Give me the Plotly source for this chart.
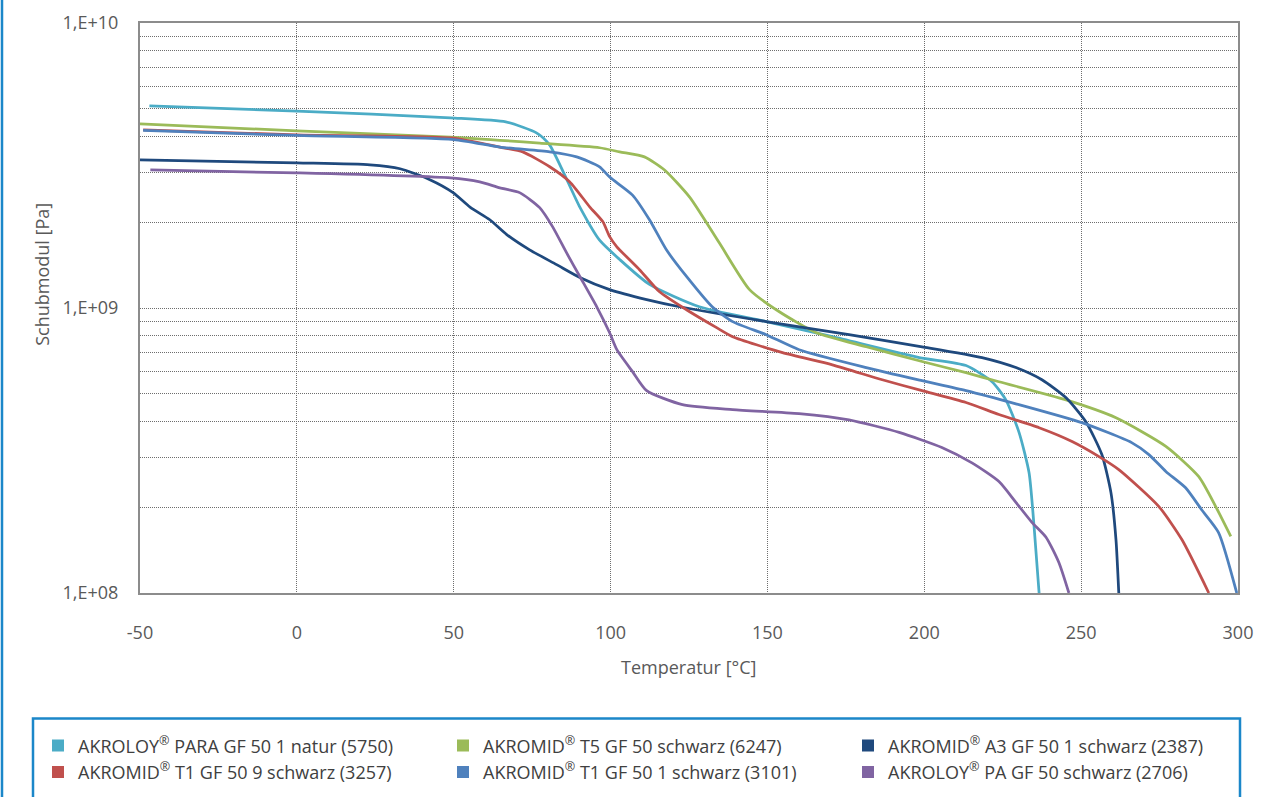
import plotly.graph_objects as go

# ---- data ----
names = [
    "AKROLOY<sup>®</sup> PARA GF 50 1 natur (5750)",
    "AKROMID<sup>®</sup> T5 GF 50 schwarz (6247)",
    "AKROMID<sup>®</sup> A3 GF 50 1 schwarz (2387)",
    "AKROMID<sup>®</sup> T1 GF 50 9 schwarz (3257)",
    "AKROMID<sup>®</sup> T1 GF 50 1 schwarz (3101)",
    "AKROLOY<sup>®</sup> PA GF 50 schwarz (2706)",
]
colors = ["#4BACC6", "#9BBB59", "#1F497D", "#C0504D", "#4F81BD", "#8064A2"]

para_T = [-47, 0, 49, 66.6, 76.5, 80.6, 90.2, 96.5, 102.9, 112.4, 128.3, 149.6, 170.7, 198.4, 213.3, 221.6, 226.0, 230.2, 233.4, 235.0, 236.6]
para_G = [5.12e9, 4.91e9, 4.65e9, 4.50e9, 4.11e9, 3.73e9, 2.26e9, 1.73e9, 1.48e9, 1.21e9, 1.01e9, 8.96e8, 7.93e8, 6.70e8, 6.28e8, 5.51e8, 4.76e8, 3.66e8, 2.64e8, 1.71e8, 1.0e8]

t5_T = [-50, 0, 49, 77.4, 96.5, 102.9, 110.8, 117.2, 125.2, 134.7, 144.3, 153.8, 165.6, 181.5, 199.3, 213.3, 223.8, 245.2, 261.1, 277.0, 287.5, 292.9, 297.7]
t5_G = [4.43e9, 4.18e9, 3.98e9, 3.79e9, 3.65e9, 3.53e9, 3.39e9, 3.05e9, 2.45e9, 1.69e9, 1.16e9, 9.70e8, 8.19e8, 7.31e8, 6.49e8, 5.93e8, 5.51e8, 4.76e8, 4.12e8, 3.27e8, 2.56e8, 2.01e8, 1.58e8]

a3_T = [-50, 0, 23.3, 32.9, 42.4, 49.8, 55.2, 61.5, 66.9, 74.2, 82.8, 90.2, 99.7, 111.5, 122.0, 149.6, 176.0, 199.3, 218.4, 229.2, 237.5, 245.2, 251.5, 256.6, 259.5, 261.1, 262.0]
a3_G = [3.31e9, 3.23e9, 3.18e9, 3.08e9, 2.82e9, 2.54e9, 2.26e9, 2.04e9, 1.81e9, 1.60e9, 1.42e9, 1.28e9, 1.16e9, 1.07e9, 1.01e9, 8.96e8, 8.06e8, 7.31e8, 6.70e8, 6.18e8, 5.60e8, 4.84e8, 3.99e8, 3.06e8, 2.25e8, 1.54e8, 1.0e8]

t1_9_T = [-49, 0, 49, 64.7, 72.0, 80.6, 87.0, 93.4, 97.5, 99.7, 102.0, 109.3, 115.6, 124.2, 133.8, 138.9, 154.8, 170.7, 186.6, 199.3, 213.3, 223.8, 236.6, 247.1, 255.7, 262.0, 274.8, 282.1, 290.7]
t1_9_G = [4.22e9, 4.05e9, 3.95e9, 3.67e9, 3.53e9, 3.13e9, 2.77e9, 2.26e9, 2.01e9, 1.78e9, 1.64e9, 1.36e9, 1.14e9, 9.86e8, 8.53e8, 7.93e8, 6.97e8, 6.32e8, 5.60e8, 5.13e8, 4.66e8, 4.23e8, 3.80e8, 3.40e8, 3.01e8, 2.71e8, 2.01e8, 1.54e8, 1.0e8]

t1_1_T = [-49, 0, 50, 64.7, 80.6, 89.2, 96.5, 99.7, 107.0, 112.4, 117.8, 124.2, 132.4, 138.9, 149.6, 160.1, 181.5, 199.3, 213.3, 229.2, 250.2, 266.1, 271.6, 277.0, 283.3, 288.4, 293.8, 299.6]
t1_1_G = [4.20e9, 4.03e9, 3.90e9, 3.67e9, 3.53e9, 3.39e9, 3.13e9, 2.88e9, 2.49e9, 2.04e9, 1.60e9, 1.29e9, 1.01e9, 8.96e8, 8.06e8, 7.14e8, 6.18e8, 5.56e8, 5.13e8, 4.61e8, 3.96e8, 3.37e8, 3.06e8, 2.67e8, 2.34e8, 1.96e8, 1.63e8, 1.0e8]

pa_T = [-46.7, 0, 49, 58.3, 64.7, 71.0, 77.4, 81.5, 86.0, 90.2, 95.6, 99.7, 102.0, 107.0, 111.5, 122.9, 138.9, 160.1, 176.0, 192.0, 205.6, 215.2, 223.8, 229.2, 234.3, 238.8, 242.9, 246.1]
pa_G = [3.05e9, 2.98e9, 2.86e9, 2.77e9, 2.64e9, 2.54e9, 2.25e9, 1.93e9, 1.56e9, 1.29e9, 1.01e9, 8.19e8, 7.14e8, 5.98e8, 5.13e8, 4.58e8, 4.40e8, 4.26e8, 4.05e8, 3.66e8, 3.24e8, 2.86e8, 2.46e8, 2.08e8, 1.77e8, 1.57e8, 1.28e8, 1.0e8]

series_T = [para_T, t5_T, a3_T, t1_9_T, t1_1_T, pa_T]
series_G = [para_G, t5_G, a3_G, t1_9_G, t1_1_G, pa_G]

x_ticks = [-50, 0, 50, 100, 150, 200, 250, 300]
y_ticks = [1e8, 1e9, 1e10]
y_ticktext = ["1,E+08", "1,E+09", "1,E+10"]
y_minor = [m * 10 ** e for e in (8, 9) for m in range(2, 10)]

FONT = "Open Sans"
TXT = "#595959"

fig = go.Figure()
for name, col, T, G in zip(names, colors, series_T, series_G):
    fig.add_trace(go.Scatter(x=T, y=G, mode="lines", name=name, showlegend=False,
                             legendgroup=name,
                             line=dict(color=col, width=2.75, shape="spline", smoothing=0.6)))
for name, col in zip(names, colors):
    fig.add_trace(go.Scatter(x=[None], y=[None], mode="markers", name=name,
                             legendgroup=name,
                             marker=dict(symbol="square", size=14, color=col)))

W, H = 1278, 797
L, R, T0, B = 140, 1238, 23, 593.5

def px(xp):
    return (xp - L) / (R - L)

def py(yp):
    return (B - yp) / (B - T0)

GRIDC = "#6e6e6e"
GRID = dict(showgrid=True, gridcolor=GRIDC, griddash="1px,1px", gridwidth=1,
            showline=True, linecolor="#8c8c8c", linewidth=2, mirror=True,
            ticks="", zeroline=False, tickfont=dict(size=18, color=TXT))

fig.update_layout(
    width=W, height=H,
    margin=dict(l=L, r=W - R, t=T0, b=H - B, pad=0, autoexpand=False),
    paper_bgcolor="white", plot_bgcolor="white",
    font=dict(family=FONT, size=17, color=TXT),
    xaxis=dict(range=[-50, 300], tickvals=x_ticks, ticktext=[str(v) for v in x_ticks],
               ticklabelstandoff=22, **GRID),
    yaxis=dict(type="log", range=[8, 10], tickvals=y_ticks, ticktext=y_ticktext,
               ticklabelstandoff=16,
               minor=dict(tickvals=y_minor, showgrid=True, gridcolor=GRIDC,
                          griddash="1px,1px", gridwidth=1, ticks=""),
               **GRID),
    legend=dict(orientation="h", x=px(38), y=py(728), xanchor="left", yanchor="top",
                entrywidth=360, entrywidthmode="pixels", bgcolor="rgba(0,0,0,0)",
                font=dict(size=18, color="#404040"), tracegroupgap=0, itemsizing="constant"),
    showlegend=True,
    annotations=[
        dict(text="Temperatur [°C]", x=px(688), y=py(668), xref="paper", yref="paper",
             showarrow=False, xanchor="center", yanchor="middle", font=dict(size=18, color=TXT)),
        dict(text="Schubmodul [Pa]", x=px(42), y=py(275), xref="paper", yref="paper",
             showarrow=False, xanchor="center", yanchor="middle", textangle=-90,
             font=dict(size=18, color=TXT)),
    ],
    shapes=[
        dict(type="rect", xref="paper", yref="paper", x0=px(33), x1=px(1240), y0=py(719), y1=py(810),
             line=dict(color="#1B87C9", width=2.5), fillcolor="rgba(0,0,0,0)", layer="below"),
        dict(type="line", xref="paper", yref="paper", x0=px(2), x1=px(2), y0=py(-5), y1=py(805),
             line=dict(color="#1B87C9", width=2.5)),
    ],
)

fig.write_html("out.html")
